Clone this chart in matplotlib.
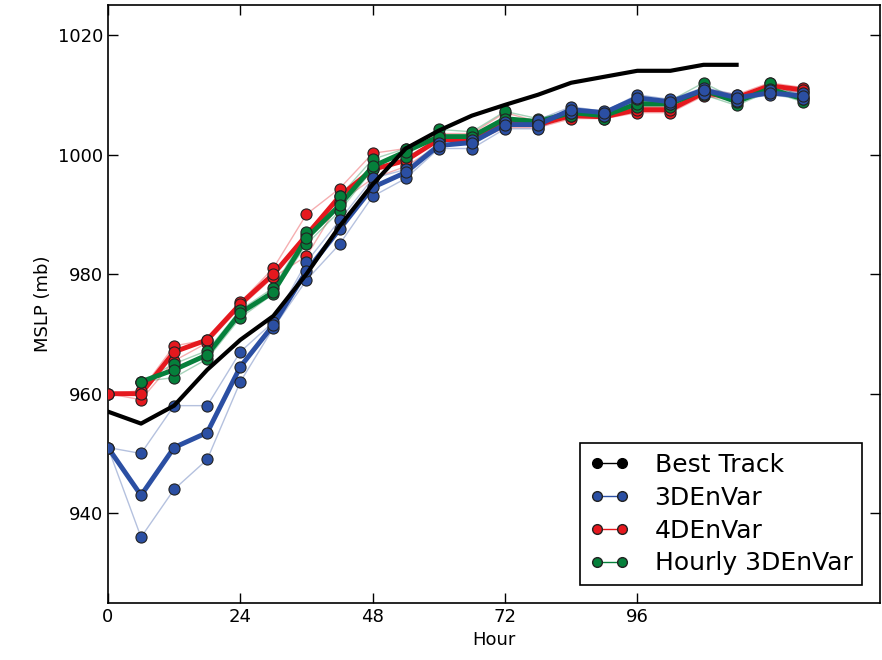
import numpy as np
import matplotlib
matplotlib.use("Agg")
import matplotlib.pyplot as plt
from matplotlib.lines import Line2D

# forecast hours (every 6 h)
hours = list(range(0, 132, 6))
bt_hours = list(range(0, 120, 6))

# Best Track MSLP (mb)
best_track = [957, 955, 958, 964, 969, 973, 980, 988, 995, 1001,
              1004, 1006.5, 1008.3, 1010, 1012, 1013, 1014, 1014, 1015, 1015]

# 3DEnVar: thick run plus two thin runs
envar3_main = [951, 943, 951, 953.5, 964.5, 971.5, 980.5, 987.5, 994.5, 997, 1001.5,
               1002, 1005, 1005, 1007.5, 1007, 1009.5, 1008.8, 1010.8, 1009.5, 1010.3, 1009.8]
envar3_hi = [951, 950, 958, 958, 967, 972, 982, 989, 996, 997.5, 1002,
             1002.5, 1005.5, 1005.8, 1008, 1007.2, 1010, 1009.2, 1011.2, 1010, 1010.8, 1010.3]
envar3_lo = [951, 936, 944, 949, 962, 971, 979, 985, 993, 996, 1001,
             1001, 1004.3, 1004.3, 1007, 1006.5, 1009.2, 1008.4, 1010.2, 1009, 1010, 1009.3]

# 4DEnVar
envar4_main = [960, 960, 967, 969, 975, 980, 986.5, 993, 997.5, 999, 1002.5,
               1002.5, 1005.5, 1005, 1006.5, 1006.3, 1007.5, 1007.5, 1010.3, 1009.5, 1011.5, 1010.8]
envar4_hi = [960, 960.5, 968, 969, 975.3, 981, 990, 994.3, 1000.2, 1001, 1003.5,
             1003.5, 1007, 1005.5, 1007, 1006.8, 1008, 1008, 1011, 1010, 1012, 1011.2]
envar4_lo = [960, 959, 965.5, 968.5, 974.5, 979.5, 983, 992, 996, 998, 1001.5,
             1002, 1004.5, 1004.5, 1006, 1006, 1007, 1007, 1009.8, 1009, 1011, 1010.4]

# Hourly 3DEnVar (starts at hour 6)
hourly_main = [np.nan, 962, 964, 966.5, 973.5, 977, 986, 991.5, 998, 1000.5, 1003,
               1003, 1006, 1005.5, 1007, 1006.5, 1008.5, 1008.5, 1010.8, 1008.8, 1011, 1009.3]
hourly_hi = [np.nan, 962, 965, 967.2, 974, 977.7, 987, 993, 999.2, 1001, 1004.2,
             1003.8, 1007.2, 1006, 1007.3, 1007, 1009, 1009, 1012, 1009.2, 1012, 1009.6]
hourly_lo = [np.nan, 962, 962.7, 965.8, 972.7, 976.7, 985, 990.5, 997.5, 999.5, 1002.5,
             1002.5, 1005.5, 1005, 1006.5, 1006, 1008, 1008, 1010, 1008.2, 1010.6, 1008.8]

BLUE = "#2b4fa3"
RED = "#e5181e"
GREEN = "#05803b"

experiments = [
    ("4DEnVar", RED, envar4_main, [envar4_hi, envar4_lo]),
    ("Hourly 3DEnVar", GREEN, hourly_main, [hourly_hi, hourly_lo]),
    ("3DEnVar", BLUE, envar3_main, [envar3_hi, envar3_lo]),
]

fig = plt.figure(figsize=(8.82, 6.6), dpi=100)
ax = fig.add_axes([0.1224, 0.0864, 0.8753, 0.906])

for name, col, main, members in experiments:
    for m in members:
        ax.plot(hours, m, color=col, lw=1, alpha=0.35, zorder=2)
    ax.plot(hours, main, color=col, lw=3.5, zorder=3)
    for m in members + [main]:
        ax.plot(hours, m, ls="none", marker="o", ms=8, mfc=col,
                mec="#222222", mew=0.8, zorder=4)

ax.plot(bt_hours, best_track, color="black", lw=3, zorder=5)

ax.set_xlim(0, 140)
ax.set_ylim(925, 1025)
ax.set_xticks([0, 24, 48, 72, 96])
ax.set_yticks([940, 960, 980, 1000, 1020])
ax.tick_params(direction="in", top=True, right=True, length=7, width=1, labelsize=13)
for s in ax.spines.values():
    s.set_linewidth(1.2)
ax.set_xlabel("Hour", fontsize=13)
ax.set_ylabel("MSLP (mb)", fontsize=13)

handles = [
    Line2D([], [], color="black", lw=1, marker="o", ms=7, mfc="black", mec="black"),
    Line2D([], [], color=BLUE, lw=1, marker="o", ms=7, mfc=BLUE, mec="#222222"),
    Line2D([], [], color=RED, lw=1, marker="o", ms=7, mfc=RED, mec="#222222"),
    Line2D([], [], color=GREEN, lw=1, marker="o", ms=7, mfc=GREEN, mec="#222222"),
]
labels = ["Best Track", "3DEnVar", "4DEnVar", "Hourly 3DEnVar"]
leg = ax.legend(handles, labels, loc="lower right", fontsize=18, numpoints=2,
                fancybox=False, framealpha=1, edgecolor="black",
                handlelength=1.6, handletextpad=1.0, borderaxespad=0.7,
                labelspacing=0.35)
leg.get_frame().set_linewidth(1.2)

fig.savefig("out.png", dpi=100)
